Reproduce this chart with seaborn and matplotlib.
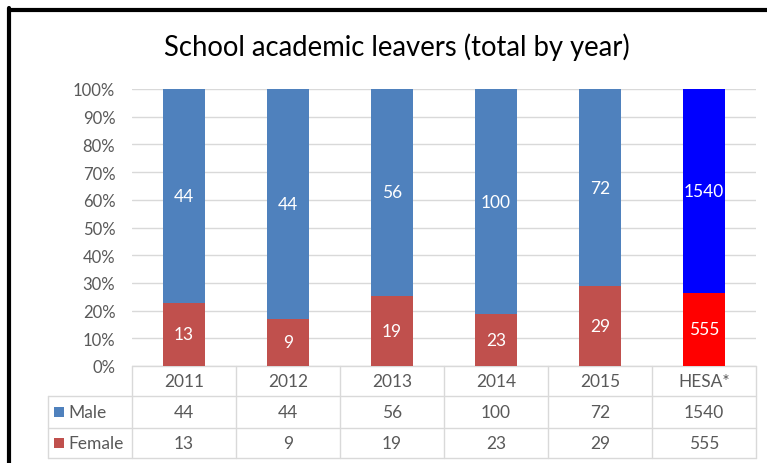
import matplotlib
matplotlib.use("Agg")
import matplotlib.pyplot as plt
from matplotlib.lines import Line2D
from matplotlib.transforms import blended_transform_factory
import seaborn as sns
import pandas as pd

# School leavers by year, plus the HESA comparison column
categories = ["2011", "2012", "2013", "2014", "2015", "HESA*"]
male = [44, 44, 56, 100, 72, 1540]
female = [13, 9, 19, 23, 29, 555]
y_ticks = [0, 10, 20, 30, 40, 50, 60, 70, 80, 90, 100]

male_colors = ["#4F81BD"] * 5 + ["#0000FF"]
female_colors = ["#C0504D"] * 5 + ["#FF0000"]
grey_text = "#595959"
grid_grey = "#D9D9D9"

sns.set_theme(style="white")
plt.rcParams["font.family"] = ["Lato", "DejaVu Sans"]

totals = [m + f for m, f in zip(male, female)]
df = pd.DataFrame({
    "category": categories,
    "female_pct": [100 * f / t for f, t in zip(female, totals)],
    "male_pct": [100 * m / t for m, t in zip(male, totals)],
})
df["top"] = df["female_pct"] + df["male_pct"]

W, H = 767, 464
fig = plt.figure(figsize=(W / 100, H / 100), dpi=100)
ax = fig.add_axes([132 / W, (H - 367) / H, 624 / W, 277 / H])

# 100% stacked bars: full-height male bar, female share drawn over it
sns.barplot(data=df, x="category", y="top", hue="category", palette=male_colors,
            legend=False, width=0.4, saturation=1, linewidth=0, ax=ax, zorder=3)
sns.barplot(data=df, x="category", y="female_pct", hue="category", palette=female_colors,
            legend=False, width=0.4, saturation=1, linewidth=0, ax=ax, zorder=3)

for i in range(len(categories)):
    fp = df["female_pct"][i]
    mp = df["male_pct"][i]
    ax.text(i, fp + mp / 2, str(male[i]), ha="center", va="center",
            color="white", fontsize=12.5, zorder=4)
    ax.text(i, fp / 2, str(female[i]), ha="center", va="center",
            color="white", fontsize=12.5, zorder=4)

ax.set_xlim(-0.5, len(categories) - 0.5)
ax.set_ylim(0, 100)
ax.set_yticks(y_ticks)
ax.set_yticklabels([f"{t}%" for t in y_ticks], color=grey_text, fontsize=12)
ax.tick_params(axis="y", length=0, pad=12)
ax.set_xticks([])
ax.set_xlabel("")
ax.set_ylabel("")
for s in ax.spines.values():
    s.set_visible(False)
ax.yaxis.grid(True, color=grid_grey, linewidth=1)
ax.set_axisbelow(True)

# Data table beneath the plot area
tr = blended_transform_factory(ax.transData, ax.transAxes)
n = len(categories)
left_edge = -0.5 - 84 / 104
rows_y = [0, -30 / 277, -62 / 277, -92 / 277]

def hline(x0, x1, y):
    ax.add_line(Line2D([x0, x1], [y, y], transform=tr, color=grid_grey,
                       lw=1, clip_on=False))

def vline(x, y0, y1):
    ax.add_line(Line2D([x, x], [y0, y1], transform=tr, color=grid_grey,
                       lw=1, clip_on=False))

hline(-0.5, n - 0.5, rows_y[0])
for y in rows_y[1:]:
    hline(left_edge, n - 0.5, y)
vline(left_edge, rows_y[1], rows_y[3])
for k in range(n + 1):
    vline(k - 0.5, rows_y[0], rows_y[3])

mid = [(rows_y[j] + rows_y[j + 1]) / 2 for j in range(3)]
for i, c in enumerate(categories):
    ax.text(i, mid[0], c, transform=tr, ha="center", va="center",
            color=grey_text, fontsize=12.5, clip_on=False)
    ax.text(i, mid[1], str(male[i]), transform=tr, ha="center", va="center",
            color=grey_text, fontsize=12.5, clip_on=False)
    ax.text(i, mid[2], str(female[i]), transform=tr, ha="center", va="center",
            color=grey_text, fontsize=12.5, clip_on=False)

for label, color, ym in [("Male", "#4F81BD", mid[1]), ("Female", "#C0504D", mid[2])]:
    ax.scatter([(59 - 184) / 104], [ym], marker="s", s=45, color=color,
               transform=tr, clip_on=False, linewidths=0)
    ax.text((68 - 184) / 104, ym, label, transform=tr, ha="left", va="center",
            color=grey_text, fontsize=12.5, clip_on=False)

fig.text(397 / W, 1 - 47 / H, "School academic leavers (total by year)",
         ha="center", va="center", fontsize=19.8, color="black")

# Outer chart frame
fig.add_artist(Line2D([9 / W, 9 / W], [0, 1 - 9 / H], transform=fig.transFigure,
                      color="black", lw=3))
fig.add_artist(Line2D([9 / W, 1], [1 - 10.5 / H, 1 - 10.5 / H], transform=fig.transFigure,
                      color="black", lw=3))

fig.savefig("out.png", dpi=100)
